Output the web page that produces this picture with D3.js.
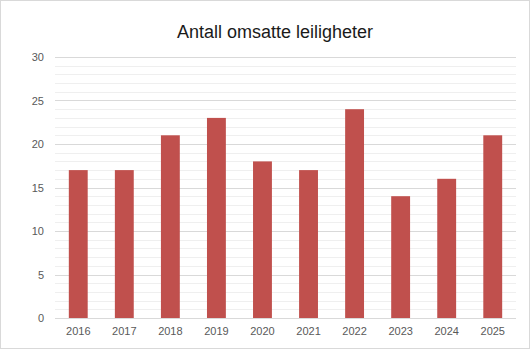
<!DOCTYPE html>
<html>
<head>
<meta charset="utf-8">
<script src="https://cdn.jsdelivr.net/npm/d3@7"></script>
<style>
  body { margin: 0; background: #fff; }
  svg { display: block; font-family: "Liberation Sans", Arial, sans-serif; }
</style>
</head>
<body>
<div class="chart"></div>
<script>
// data
var years = ["2016", "2017", "2018", "2019", "2020", "2021", "2022", "2023", "2024", "2025"];
var sales = [17, 17, 21, 23, 18, 17, 24, 14, 16, 21];
var yTicks = [0, 5, 10, 15, 20, 25, 30];

var width = 530,
    height = 349;
var margin = {top: 57, right: 14, bottom: 31, left: 55};

var svg = d3.select(".chart")
    .append("svg")
    .attr("width", width)
    .attr("height", height);

// outer frame
svg.append("rect")
    .attr("x", 0.5).attr("y", 0.5)
    .attr("width", width - 1).attr("height", height - 1)
    .attr("fill", "#fff")
    .attr("stroke", "#d9d9d9");

var x = d3.scaleBand()
    .domain(years)
    .range([margin.left, width - margin.right])
    .paddingInner(0.59)
    .paddingOuter(0.3);

var y = d3.scaleLinear()
    .domain([0, 30])
    .range([height - margin.bottom, margin.top]);

// minor gridlines
svg.append("g")
    .selectAll("line")
    .data(d3.range(0, 31).filter(function(v){ return v % 5 != 0; }))
    .enter()
    .append("line")
    .attr("x1", margin.left).attr("x2", width - margin.right)
    .attr("y1", function(d){ return Math.round(y(d)) + 0.5; })
    .attr("y2", function(d){ return Math.round(y(d)) + 0.5; })
    .attr("stroke", "#efefef");

// major gridlines
svg.append("g")
    .selectAll("line")
    .data(yTicks.slice(1))
    .enter()
    .append("line")
    .attr("x1", margin.left).attr("x2", width - margin.right)
    .attr("y1", function(d){ return Math.round(y(d)) + 0.5; })
    .attr("y2", function(d){ return Math.round(y(d)) + 0.5; })
    .attr("stroke", "#d9d9d9");

// bars
svg.append("g")
    .selectAll("rect")
    .data(sales)
    .enter()
    .append("rect")
    .attr("x", function(d, i){ return x(years[i]); })
    .attr("width", x.bandwidth())
    .attr("y", function(d){ return y(d); })
    .attr("height", function(d){ return y(0) - y(d); })
    .attr("fill", "#c0504d");

// baseline
svg.append("line")
    .attr("x1", margin.left).attr("x2", width - margin.right)
    .attr("y1", Math.round(y(0)) + 0.5).attr("y2", Math.round(y(0)) + 0.5)
    .attr("stroke", "#d9d9d9");

// y axis labels
var yAxis = d3.axisLeft(y).tickValues(yTicks).tickSize(0).tickPadding(11);
var gy = svg.append("g")
    .attr("transform", "translate(" + margin.left + ",0)")
    .call(yAxis);
gy.select(".domain").remove();
gy.selectAll("text").attr("fill", "#595959").style("font-size", "11px");

// x axis labels
var xAxis = d3.axisBottom(x).tickSize(0).tickPadding(9);
var gx = svg.append("g")
    .attr("transform", "translate(0," + y(0) + ")")
    .call(xAxis);
gx.select(".domain").remove();
gx.selectAll("text").attr("fill", "#595959").style("font-size", "11px");

// title
svg.append("text")
    .attr("x", 275)
    .attr("y", 38)
    .attr("text-anchor", "middle")
    .attr("fill", "#1a1a1a")
    .style("font-size", "18px")
    .text("Antall omsatte leiligheter");
</script>
</body>
</html>
